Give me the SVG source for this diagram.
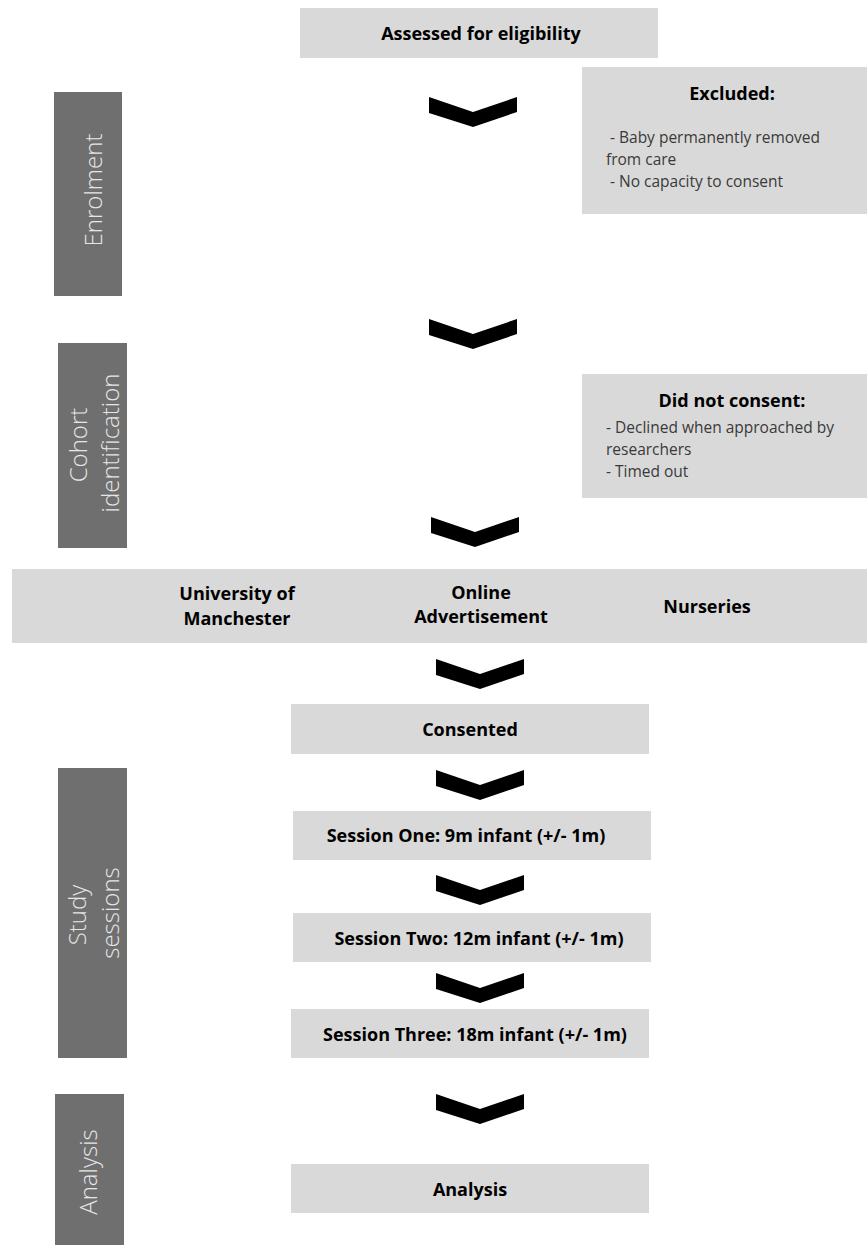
<svg xmlns="http://www.w3.org/2000/svg" width="867" height="1245" viewBox="0 0 867 1245">
<style>
.box{fill:#d9d9d9}
.bar{fill:#6f6f6f}
.b{font-family:"Open Sans","Liberation Sans",sans-serif;font-weight:700;font-size:18px;fill:#000;text-anchor:middle}
.r{font-family:"Open Sans","Liberation Sans",sans-serif;font-weight:400;font-size:15.5px;fill:#3a3a3a}
.v{font-family:"Open Sans","Liberation Sans",sans-serif;font-weight:300;font-size:24px;fill:#e6e6e6;text-anchor:middle}
.chev{fill:#000}
</style>
<defs>
<polygon id="chev" points="0,0 44,15 88,0 88,15 44,30 0,16"/>
</defs>
<rect width="867" height="1245" fill="#fff"/>
<g id="bar-enrolment">
<rect class="bar" x="54" y="92" width="68" height="204"/>
<text class="v" transform="translate(102,190) rotate(-90)">Enrolment</text>
</g>
<g id="bar-cohort">
<rect class="bar" x="58" y="343" width="69" height="205"/>
<text class="v" transform="translate(87,445) rotate(-90)">Cohort</text>
<text class="v" transform="translate(119,443) rotate(-90)">identification</text>
</g>
<g id="bar-study">
<rect class="bar" x="58" y="768" width="69" height="290"/>
<text class="v" transform="translate(86,915) rotate(-90)">Study</text>
<text class="v" transform="translate(119,913) rotate(-90)">sessions</text>
</g>
<g id="bar-analysis">
<rect class="bar" x="55" y="1094" width="69" height="151"/>
<text class="v" transform="translate(97,1172) rotate(-90)">Analysis</text>
</g>
<g id="assessed">
<rect class="box" x="300" y="8" width="358" height="50"/>
<text class="b" x="481" y="40">Assessed for eligibility</text>
</g>
<g id="excluded">
<rect class="box" x="582" y="67" width="285" height="147"/>
<text class="b" x="732" y="100">Excluded:</text>
<text class="r" x="610" y="143">- Baby permanently removed</text>
<text class="r" x="606" y="165">from care</text>
<text class="r" x="610" y="187">- No capacity to consent</text>
</g>
<g id="did-not-consent">
<rect class="box" x="582" y="374" width="285" height="124"/>
<text class="b" x="732" y="407">Did not consent:</text>
<text class="r" x="606" y="433">- Declined when approached by</text>
<text class="r" x="606" y="455">researchers</text>
<text class="r" x="606" y="477">- Timed out</text>
</g>
<g id="sources">
<rect class="box" x="12" y="569" width="855" height="74"/>
<text class="b" x="237" y="600">University of</text>
<text class="b" x="237" y="625">Manchester</text>
<text class="b" x="481" y="599">Online</text>
<text class="b" x="481" y="623">Advertisement</text>
<text class="b" x="707" y="613">Nurseries</text>
</g>
<g id="consented">
<rect class="box" x="291" y="704" width="358" height="50"/>
<text class="b" x="470" y="736">Consented</text>
</g>
<g id="session-one">
<rect class="box" x="293" y="811" width="358" height="49"/>
<text class="b" x="466" y="842">Session One: 9m infant (+/- 1m)</text>
</g>
<g id="session-two">
<rect class="box" x="293" y="913" width="358" height="49"/>
<text class="b" x="479" y="945">Session Two: 12m infant (+/- 1m)</text>
</g>
<g id="session-three">
<rect class="box" x="291" y="1009" width="358" height="49"/>
<text class="b" x="475" y="1041">Session Three: 18m infant (+/- 1m)</text>
</g>
<g id="analysis">
<rect class="box" x="291" y="1164" width="358" height="49"/>
<text class="b" x="470" y="1196">Analysis</text>
</g>
<g id="connectors" class="chev">
<use href="#chev" x="429" y="97"/>
<use href="#chev" x="429" y="319"/>
<use href="#chev" x="431" y="517"/>
<use href="#chev" x="436" y="659"/>
<use href="#chev" x="436" y="770"/>
<use href="#chev" x="436" y="875"/>
<use href="#chev" x="436" y="973"/>
<use href="#chev" x="436" y="1094"/>
</g>
</svg>
